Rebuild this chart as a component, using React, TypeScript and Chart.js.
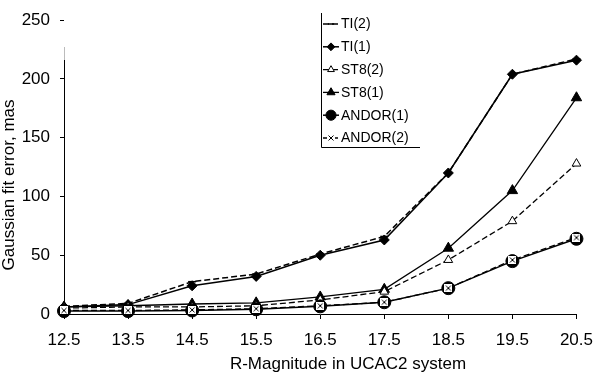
import React, { useEffect, useRef } from 'react';
import { Chart, registerables } from 'chart.js';
import { drawPoint } from 'chart.js/helpers';

Chart.register(...registerables);

const magnitudes = ['12.5', '13.5', '14.5', '15.5', '16.5', '17.5', '18.5', '19.5', '20.5'];
const ti2 = [6.5, 9, 27.5, 34, 51, 66, 120, 204, 217];
const ti1 = [6, 8, 24, 32, 50, 63, 120, 204, 216];
const st82 = [5, 6, 6, 7, 12, 19, 46, 79, 128];
const st81 = [6, 7, 8.5, 9.5, 14.5, 21, 56, 105, 184];
const andor1 = [2.5, 2.5, 3, 4, 6.5, 10, 22, 45, 64];
const andor2 = [3, 3, 3.5, 4.5, 7, 10, 22, 46, 65];
const yMin = 0;
const yMax = 250;
const yStep = 50;
const xTitle = 'R-Magnitude in UCAC2 system';
const yTitle = 'Gaussian fit error, mas';

const FONT = '"Liberation Sans", Arial, sans-serif';

function makeCrossImage(): HTMLCanvasElement {
  const c = document.createElement('canvas');
  c.width = 8;
  c.height = 8;
  const g = c.getContext('2d')!;
  g.fillStyle = '#fff';
  g.fillRect(0, 0, 8, 8);
  g.strokeStyle = '#000';
  g.lineWidth = 1;
  g.beginPath();
  g.moveTo(1.5, 1.5);
  g.lineTo(6.5, 6.5);
  g.moveTo(6.5, 1.5);
  g.lineTo(1.5, 6.5);
  g.stroke();
  return c;
}

const overlayPlugin = {
  id: 'overlay',
  beforeDatasetsDraw(chart: any) {
    // y-axis line (faded at its top, as in the scanned original)
    const ctx: CanvasRenderingContext2D = chart.ctx;
    const a = chart.chartArea;
    const x = Math.round(a.left) + 0.5;
    ctx.save();
    ctx.lineWidth = 1;
    ctx.strokeStyle = '#bbb';
    ctx.beginPath();
    ctx.moveTo(x, 47);
    ctx.lineTo(x, 60);
    ctx.stroke();
    ctx.strokeStyle = '#000';
    ctx.beginPath();
    ctx.moveTo(x, 60);
    ctx.lineTo(x, a.bottom);
    ctx.stroke();
    ctx.restore();
  },
  afterDraw(chart: any) {
    const ctx: CanvasRenderingContext2D = chart.ctx;
    ctx.save();
    ctx.fillStyle = '#000';
    ctx.font = `17px ${FONT}`;
    ctx.textAlign = 'center';
    ctx.textBaseline = 'middle';
    ctx.fillText(xTitle, 348, 364);
    ctx.save();
    ctx.translate(9, 185);
    ctx.rotate(-Math.PI / 2);
    ctx.fillText(yTitle, 0, 0);
    ctx.restore();

    // legend box (left and bottom borders)
    ctx.strokeStyle = '#000';
    ctx.lineWidth = 1;
    ctx.setLineDash([]);
    ctx.beginPath();
    ctx.moveTo(321.5, 13);
    ctx.lineTo(321.5, 147.5);
    ctx.lineTo(420, 147.5);
    ctx.stroke();

    ctx.font = `14px ${FONT}`;
    ctx.textAlign = 'left';
    ctx.textBaseline = 'middle';
    const datasets = chart.data.datasets;
    datasets.forEach((ds: any, i: number) => {
      const y = 24 + i * 22.8;
      ctx.save();
      ctx.strokeStyle = '#000';
      ctx.lineWidth = ds.borderWidth;
      ctx.setLineDash(ds.borderDash || []);
      ctx.beginPath();
      ctx.moveTo(323, y);
      ctx.lineTo(339, y);
      ctx.stroke();
      ctx.setLineDash([]);
      ctx.fillStyle = ds.pointBackgroundColor;
      ctx.strokeStyle = ds.pointBorderColor;
      ctx.lineWidth = ds.pointBorderWidth;
      const isImg = typeof ds.pointStyle !== 'string';
      drawPoint(ctx, {
        pointStyle: ds.pointStyle,
        radius: isImg ? ds.pointRadius : ds.pointRadius * 0.78,
        rotation: 0,
        borderWidth: ds.pointBorderWidth,
      } as any, 331, y);
      ctx.restore();
      ctx.fillStyle = '#000';
      ctx.fillText(ds.label, 341, y + 0.5);
    });
    ctx.restore();
  },
};

export default function App() {
  const canvasRef = useRef<HTMLCanvasElement | null>(null);

  useEffect(() => {
    document.body.style.margin = '0';
    const canvas = canvasRef.current;
    if (!canvas) return;
    const crossImg = makeCrossImage();

    const base = {
      borderColor: '#000',
      pointBorderColor: '#000',
      tension: 0,
      clip: false as any,
      fill: false,
    };

    const chart = new Chart(canvas, {
      type: 'line',
      data: {
        labels: magnitudes,
        datasets: [
          {
            ...base,
            label: 'TI(2)',
            data: ti2,
            borderWidth: 1.5,
            borderDash: [6, 3],
            pointStyle: 'line',
            pointRadius: 4,
            pointBorderWidth: 1.5,
            pointBackgroundColor: '#000',
            order: 5,
          },
          {
            ...base,
            label: 'TI(1)',
            data: ti1,
            borderWidth: 1.5,
            pointStyle: 'rectRot',
            pointRadius: 5,
            pointBorderWidth: 1,
            pointBackgroundColor: '#000',
            order: 4,
          },
          {
            ...base,
            label: 'ST8(2)',
            data: st82,
            borderWidth: 1.3,
            borderDash: [6, 3],
            pointStyle: 'triangle',
            pointRadius: 5,
            pointBorderWidth: 1,
            pointBackgroundColor: '#fff',
            order: 2,
          },
          {
            ...base,
            label: 'ST8(1)',
            data: st81,
            borderWidth: 1.3,
            pointStyle: 'triangle',
            pointRadius: 6,
            pointBorderWidth: 1,
            pointBackgroundColor: '#000',
            order: 3,
          },
          {
            ...base,
            label: 'ANDOR(1)',
            data: andor1,
            borderWidth: 1.5,
            pointStyle: 'circle',
            pointRadius: 6.5,
            pointBorderWidth: 1,
            pointBackgroundColor: '#000',
            order: 1,
          },
          {
            ...base,
            label: 'ANDOR(2)',
            data: andor2,
            borderWidth: 1.3,
            borderDash: [6, 3],
            pointStyle: crossImg as any,
            pointRadius: 4,
            pointBorderWidth: 1,
            pointBackgroundColor: '#fff',
            order: 0,
          },
        ] as any,
      },
      options: {
        animation: false,
        responsive: false,
        maintainAspectRatio: false,
        events: [],
        layout: {
          padding: { top: 7, right: 16, left: 0, bottom: 0 },
          autoPadding: false,
        } as any,
        plugins: {
          legend: { display: false },
          tooltip: { enabled: false },
          title: { display: false },
        },
        scales: {
          x: {
            type: 'category',
            offset: false,
            grid: {
              display: true,
              drawOnChartArea: false,
              drawTicks: true,
              tickLength: 5,
              color: '#000',
              offset: false,
            },
            border: { display: true, color: '#000', width: 1 },
            ticks: {
              color: '#000',
              font: { size: 17, family: FONT },
              padding: 11,
              maxRotation: 0,
              autoSkip: false,
            },
            afterFit: (s: any) => {
              s.height = 59;
            },
          },
          y: {
            type: 'linear',
            min: yMin,
            max: yMax,
            grid: {
              display: true,
              drawOnChartArea: false,
              drawTicks: true,
              tickLength: 4,
              color: '#000',
            },
            border: { display: false },
            ticks: {
              stepSize: yStep,
              color: '#000',
              font: { size: 17, family: FONT },
              padding: 10,
            },
            afterFit: (s: any) => {
              s.width = 64;
            },
          },
        },
      } as any,
      plugins: [overlayPlugin],
    });

    return () => {
      chart.destroy();
    };
  }, []);

  return (
    <div style={{ width: 604, height: 373, background: '#fff' }}>
      <canvas ref={canvasRef} width={604} height={373} />
    </div>
  );
}
